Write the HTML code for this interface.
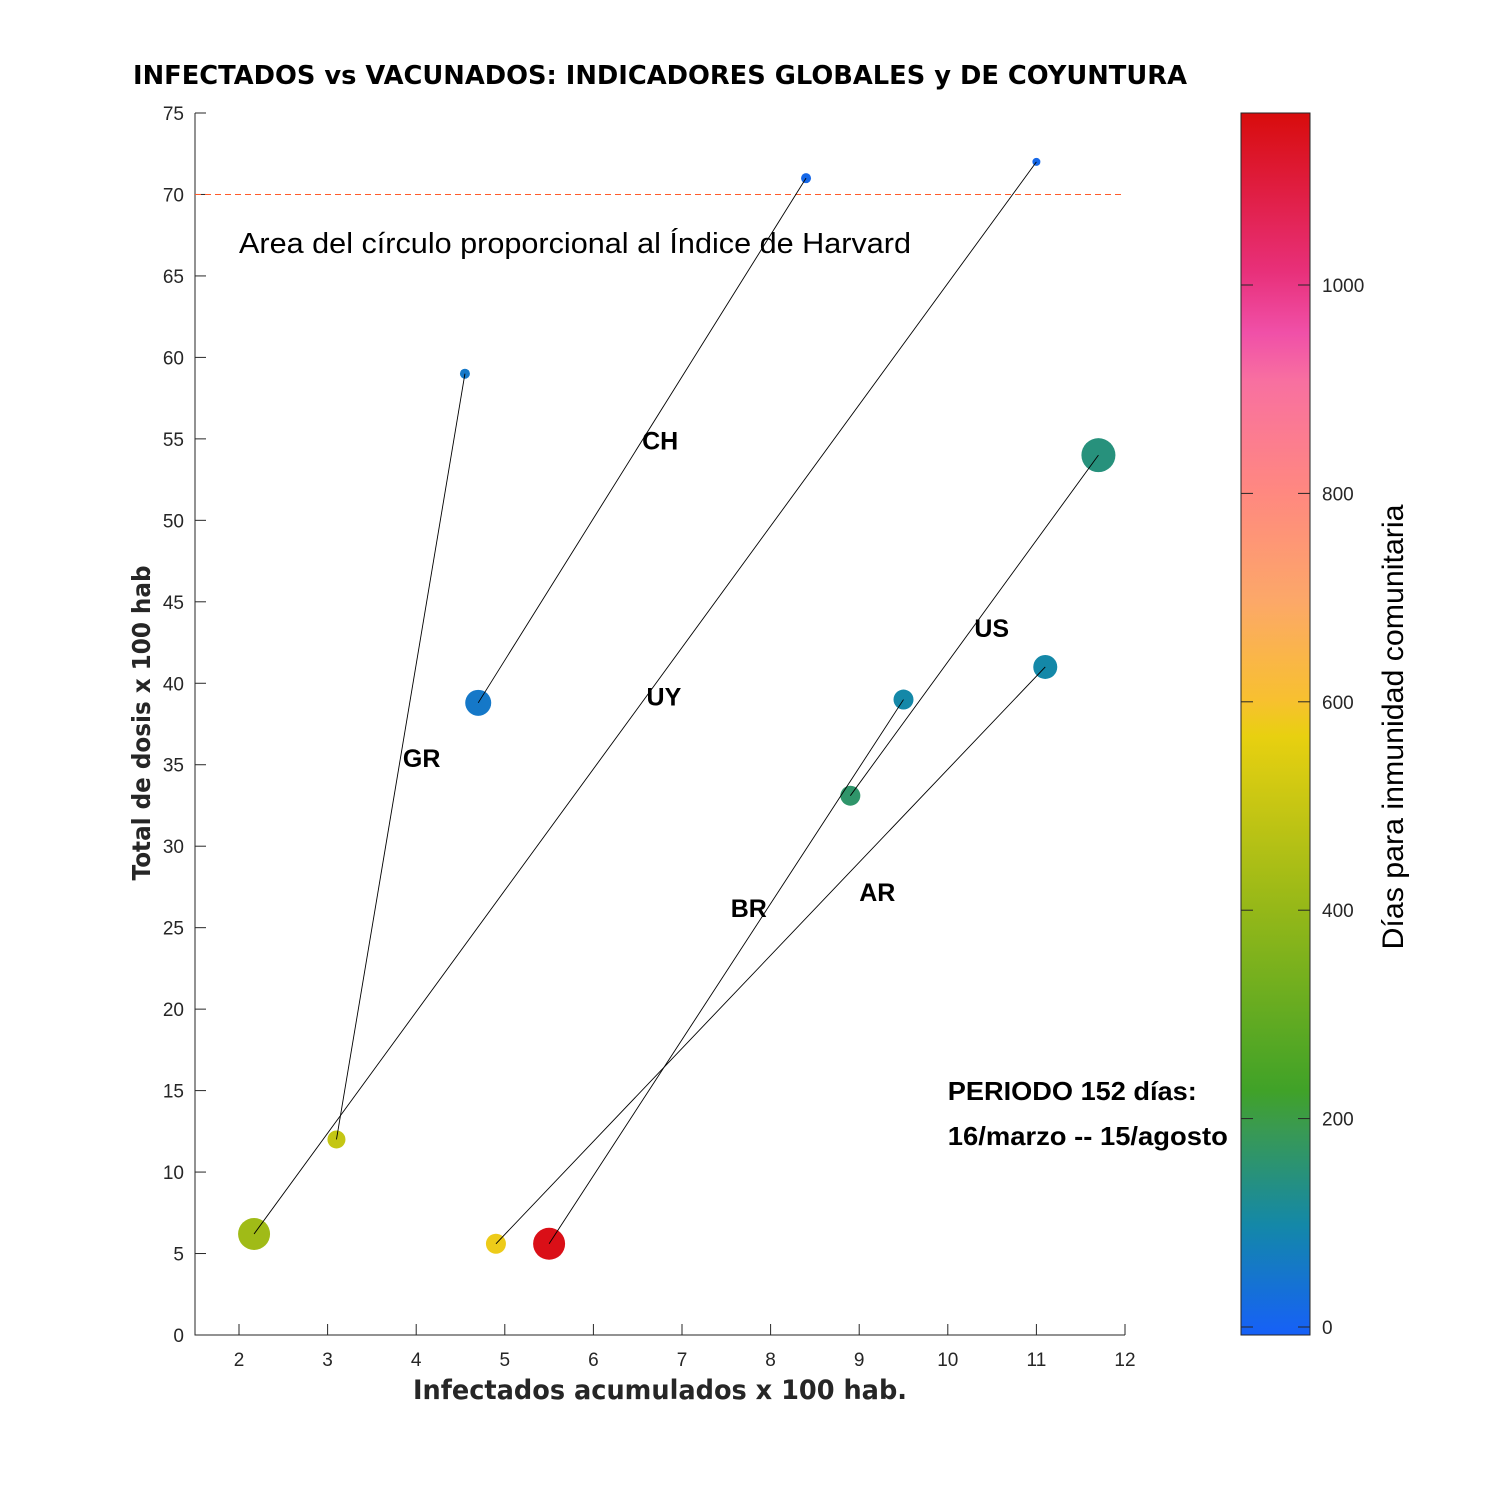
<!DOCTYPE html>
<html><head><meta charset="utf-8"><style>
body{margin:0;background:#fff}
svg text{font-family:"Liberation Sans",sans-serif}
</style></head><body>
<svg id="c" width="1500" height="1500" viewBox="0 0 1500 1500" xmlns="http://www.w3.org/2000/svg">
<defs>
<linearGradient id="cmap" x1="0" y1="1" x2="0" y2="0">
<stop offset="0" stop-color="#1660f8"/>
<stop offset="0.09" stop-color="#1488a8"/>
<stop offset="0.17" stop-color="#3a9a50"/>
<stop offset="0.2" stop-color="#40a228"/>
<stop offset="0.35" stop-color="#96b818"/>
<stop offset="0.49" stop-color="#e8d010"/>
<stop offset="0.52" stop-color="#f8c030"/>
<stop offset="0.6" stop-color="#fca868"/>
<stop offset="0.69" stop-color="#ff8880"/>
<stop offset="0.78" stop-color="#f870a0"/>
<stop offset="0.82" stop-color="#f050a8"/>
<stop offset="0.87" stop-color="#e8307a"/>
<stop offset="1" stop-color="#d80c0c"/>
</linearGradient>
</defs>
<text x="133" y="84" textLength="1054" lengthAdjust="spacingAndGlyphs" font-size="26" font-weight="bold" style="font-family:'DejaVu Sans',sans-serif">INFECTADOS vs VACUNADOS: INDICADORES GLOBALES y DE COYUNTURA</text>
<g id="plot"></g>
</svg>
<script>
const countries=["GR","UY","CH","US","BR","AR"];
const x0=[3.1,2.17,4.7,8.9,5.5,4.9];
const y0=[12,6.2,38.8,33.1,5.6,5.6];
const x1=[4.55,11.0,8.4,11.7,9.5,11.1];
const y1=[59,72,71,54,39,41];
const r0=[9,16,13,10,16,10];
const r1=[5,4,5,17,10,12];
const c0=[500,430,60,170,1150,580];
const c1=[60,20,20,150,100,100];
const labX=[3.85,6.6,6.55,10.3,7.55,9.0];
const labY=[35.4,39.2,54.9,43.4,26.2,27.2];
const xTicks=[2,3,4,5,6,7,8,9,10,11,12];
const yTicks=[0,5,10,15,20,25,30,35,40,45,50,55,60,65,70,75];
const cTicks=[0,200,400,600,800,1000];

const NS="http://www.w3.org/2000/svg";
const g=document.getElementById('plot');
const X=v=>194.7+(v-1.5)*88.6;
const Y=v=>1335-v*(1222/75);
const CB=v=>1327-v*1.042;
const stops=[[0,"#1660f8"],[100,"#1488a8"],[200,"#3a9a50"],[235,"#40a228"],[410,"#96b818"],[570,"#e8d010"],[605,"#f8c030"],[700,"#fca868"],[800,"#ff8880"],[905,"#f870a0"],[955,"#f050a8"],[1010,"#e8307a"],[1165,"#d80c0c"]];
function hx(h){return [1,3,5].map(i=>parseInt(h.substr(i,2),16));}
function cmap(v){for(let i=1;i<stops.length;i++){if(v<=stops[i][0]){const a=stops[i-1],b=stops[i];const t=(v-a[0])/(b[0]-a[0]);const A=hx(a[1]),B=hx(b[1]);return `rgb(${A.map((q,k)=>Math.round(q+(B[k]-q)*t)).join(',')})`;}}return stops[stops.length-1][1];}
function mk(t,a){const e=document.createElementNS(NS,t);for(const k in a)e.setAttribute(k,a[k]);g.appendChild(e);return e;}

let e;
e=mk('path',{d:`M195 113 V1335 H1125`,fill:'none',stroke:'#262626','stroke-width':1});


xTicks.forEach(t=>{
 mk('line',{x1:X(t),x2:X(t),y1:1335,y2:1324,stroke:'#262626'});
 e=mk('text',{x:X(t),y:1366,'text-anchor':'middle','font-size':19,fill:'#262626'});e.textContent=t;
 
 
});
yTicks.forEach(t=>{
 mk('line',{x1:195,x2:206,y1:Y(t),y2:Y(t),stroke:'#262626'});
 e=mk('text',{x:184,y:Y(t)+7,'text-anchor':'end','font-size':19,fill:'#262626'});e.textContent=t;
 
 
});
e=mk('line',{x1:195,x2:1125,y1:Y(70),y2:Y(70),stroke:'#ff5a2a','stroke-dasharray':'6,4','stroke-width':1});


e=mk('text',{x:X(2),y:253,'font-size':29,textLength:672,lengthAdjust:'spacingAndGlyphs'});e.textContent='Area del círculo proporcional al Índice de Harvard';


e=mk('text',{x:X(10),y:1100,'font-size':26,'font-weight':'bold',textLength:249,lengthAdjust:'spacingAndGlyphs'});e.textContent='PERIODO 152 días:';


e=mk('text',{x:X(10),y:1145,'font-size':26,'font-weight':'bold',textLength:280,lengthAdjust:'spacingAndGlyphs'});e.textContent='16/marzo -- 15/agosto';



countries.forEach((c,i)=>{
 e=mk('circle',{cx:X(x0[i]),cy:Y(y0[i]),r:r0[i],fill:cmap(c0[i])});
 
 
 e=mk('circle',{cx:X(x1[i]),cy:Y(y1[i]),r:r1[i],fill:cmap(c1[i])});
 
 
});
countries.forEach((c,i)=>{
 e=mk('line',{x1:X(x0[i]),y1:Y(y0[i]),x2:X(x1[i]),y2:Y(y1[i]),stroke:'#000','stroke-width':0.9});
 
 
 e=mk('text',{x:X(labX[i]),y:Y(labY[i])+9,'font-size':25,'font-weight':'bold'});e.textContent=c;
 
 
});

e=mk('text',{x:0,y:0,'font-size':25,'font-weight':'bold',fill:'#262626','text-anchor':'middle',textLength:315,lengthAdjust:'spacingAndGlyphs',style:"font-family:'DejaVu Sans',sans-serif",transform:'translate(150,723) rotate(-90)'});e.textContent='Total de dosis x 100 hab';


e=mk('text',{x:660,y:1399,'font-size':27,'font-weight':'bold',fill:'#262626','text-anchor':'middle',textLength:494,lengthAdjust:'spacingAndGlyphs',style:"font-family:'DejaVu Sans',sans-serif"});e.textContent='Infectados acumulados x 100 hab.';



e=mk('rect',{x:1241,y:113,width:69,height:1222,fill:'url(#cmap)',stroke:'#262626','stroke-width':1});


cTicks.forEach(t=>{
 mk('line',{x1:1241,x2:1253,y1:CB(t),y2:CB(t),stroke:'#262626'});
 mk('line',{x1:1298,x2:1310,y1:CB(t),y2:CB(t),stroke:'#262626'});
 e=mk('text',{x:1322,y:CB(t)+7,'font-size':19,fill:'#262626'});e.textContent=t;
 
 
});
e=mk('text',{x:0,y:0,'font-size':30,fill:'#000','text-anchor':'middle',textLength:445,lengthAdjust:'spacingAndGlyphs',transform:'translate(1403,727) rotate(-90)'});e.textContent='Días para inmunidad comunitaria';


</script>
</body></html>
